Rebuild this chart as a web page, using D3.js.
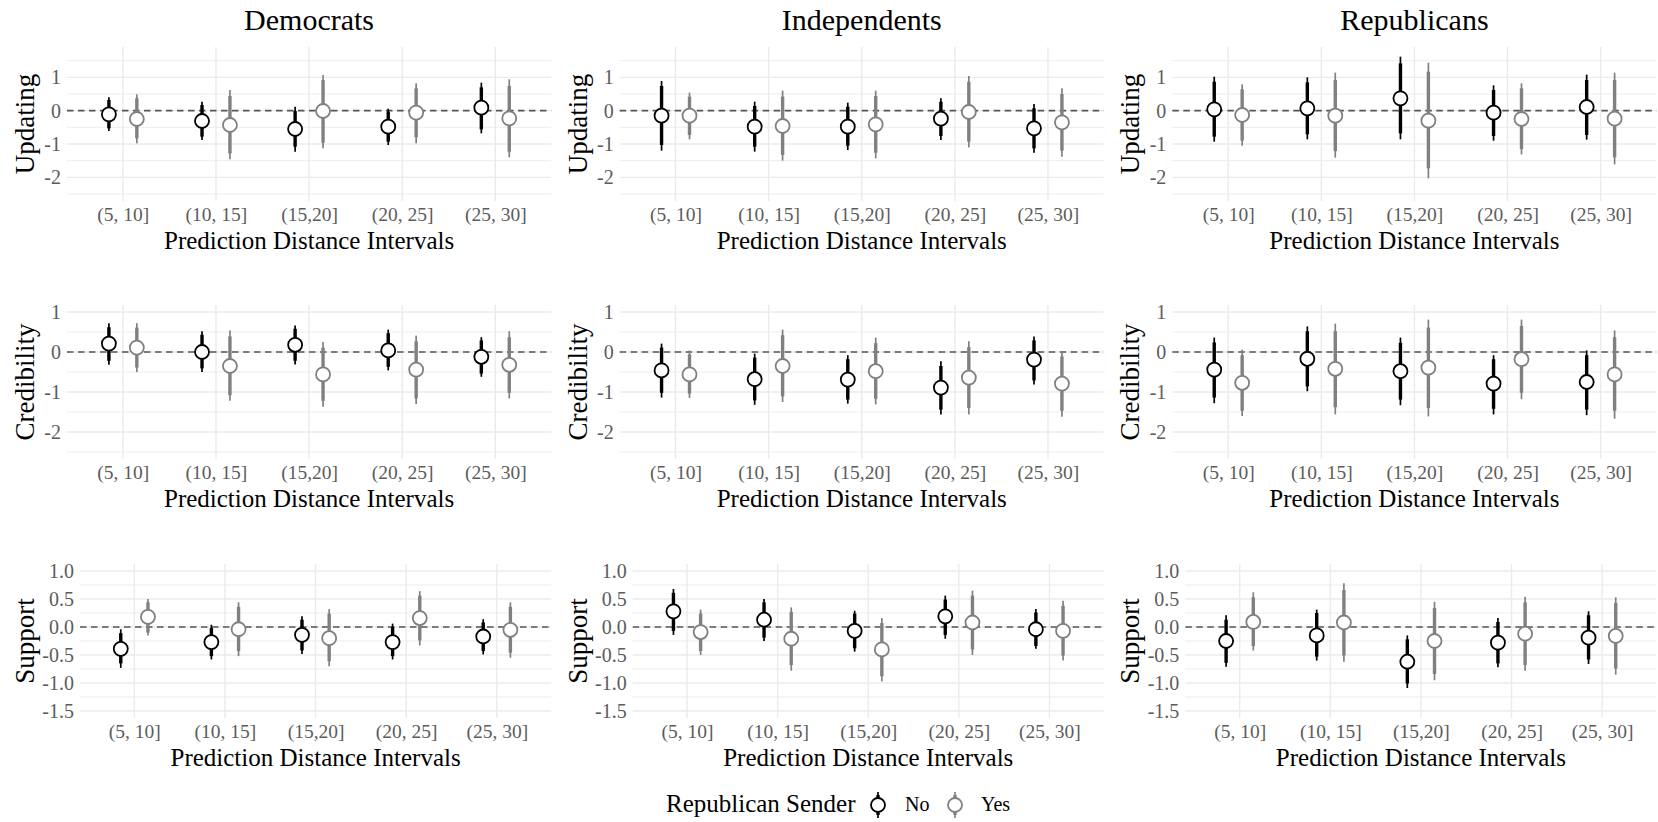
<!DOCTYPE html>
<html>
<head>
<meta charset="utf-8">
<script src="https://cdn.jsdelivr.net/npm/d3@7"></script>
<style>
  body { margin: 0; background: #fff; }
  svg text { font-family: "Liberation Serif", "Times New Roman", serif; }
</style>
</head>
<body>
<div id="chart"></div>
<script>
// categories and panel labels
const categories = ["(5, 10]", "(10, 15]", "(15,20]", "(20, 25]", "(25, 30]"];
const parties    = ["Democrats", "Independents", "Republicans"];
const outcomes   = ["Updating", "Credibility", "Support"];
const senders    = ["No", "Yes"];

// each row: [estimate, lo95, lo66, hi66, hi95]
const demUpdatingNo  = [[-0.11,-0.61,-0.53,0.32,0.40],[-0.31,-0.88,-0.78,0.17,0.27],[-0.55,-1.23,-1.08,-0.01,0.12],[-0.48,-1.03,-0.93,-0.03,0.06],[0.09,-0.68,-0.56,0.70,0.84]];
const demUpdatingYes = [[-0.25,-0.98,-0.83,0.37,0.49],[-0.43,-1.46,-1.28,0.44,0.62],[-0.01,-1.13,-0.96,0.92,1.07],[-0.06,-0.98,-0.80,0.67,0.82],[-0.23,-1.40,-1.23,0.74,0.94]];
const indUpdatingNo  = [[-0.15,-1.20,-1.03,0.74,0.89],[-0.48,-1.23,-1.08,0.14,0.27],[-0.48,-1.18,-1.05,0.12,0.24],[-0.24,-0.88,-0.76,0.27,0.37],[-0.53,-1.26,-1.13,0.07,0.20]];
const indUpdatingYes = [[-0.15,-0.86,-0.73,0.42,0.54],[-0.46,-1.50,-1.33,0.42,0.60],[-0.41,-1.43,-1.26,0.44,0.60],[-0.04,-1.10,-0.93,0.87,1.04],[-0.35,-1.38,-1.20,0.50,0.67]];
const repUpdatingNo  = [[0.04,-0.93,-0.78,0.87,1.02],[0.07,-0.86,-0.71,0.85,1.00],[0.37,-0.86,-0.68,1.42,1.62],[-0.06,-0.90,-0.76,0.62,0.76],[0.11,-0.87,-0.73,0.92,1.08]];
const repUpdatingYes = [[-0.13,-1.05,-0.90,0.64,0.79],[-0.15,-1.41,-1.21,0.92,1.14],[-0.30,-2.03,-1.73,1.17,1.44],[-0.25,-1.31,-1.15,0.67,0.82],[-0.24,-1.61,-1.40,0.92,1.14]];

const demCredibilityNo  = [[0.21,-0.32,-0.22,0.62,0.72],[0.00,-0.50,-0.41,0.43,0.52],[0.18,-0.31,-0.22,0.58,0.66],[0.04,-0.46,-0.37,0.47,0.56],[-0.12,-0.62,-0.54,0.29,0.37]];
const demCredibilityYes = [[0.11,-0.50,-0.39,0.61,0.72],[-0.35,-1.22,-1.08,0.39,0.54],[-0.56,-1.37,-1.22,0.11,0.25],[-0.44,-1.30,-1.16,0.27,0.41],[-0.32,-1.16,-1.02,0.37,0.52]];
const indCredibilityNo  = [[-0.46,-1.14,-1.02,0.11,0.21],[-0.68,-1.32,-1.21,-0.14,-0.04],[-0.69,-1.29,-1.19,-0.18,-0.08],[-0.89,-1.56,-1.44,-0.35,-0.23],[-0.19,-0.81,-0.71,0.29,0.39]];
const indCredibilityYes = [[-0.56,-1.15,-1.04,-0.06,0.04],[-0.35,-1.25,-1.11,0.42,0.56],[-0.48,-1.31,-1.17,0.22,0.36],[-0.64,-1.56,-1.40,0.12,0.27],[-0.79,-1.62,-1.47,-0.11,0.02]];
const repCredibilityNo  = [[-0.44,-1.28,-1.14,0.24,0.36],[-0.17,-0.98,-0.86,0.52,0.64],[-0.48,-1.33,-1.19,0.23,0.36],[-0.79,-1.56,-1.42,-0.18,-0.08],[-0.75,-1.58,-1.44,-0.08,0.04]];
const repCredibilityYes = [[-0.77,-1.60,-1.47,-0.08,0.06],[-0.42,-1.56,-1.38,0.52,0.71],[-0.39,-1.61,-1.40,0.61,0.81],[-0.18,-1.18,-1.02,0.65,0.81],[-0.56,-1.67,-1.47,0.37,0.54]];

const demSupportNo  = [[-0.39,-0.73,-0.65,-0.11,-0.04],[-0.27,-0.58,-0.52,-0.02,0.04],[-0.14,-0.48,-0.42,0.13,0.19],[-0.27,-0.58,-0.52,0.00,0.06],[-0.17,-0.49,-0.43,0.08,0.14]];
const demSupportYes = [[0.18,-0.15,-0.10,0.44,0.50],[-0.04,-0.52,-0.43,0.36,0.44],[-0.20,-0.70,-0.61,0.24,0.32],[0.16,-0.33,-0.24,0.56,0.64],[-0.05,-0.55,-0.46,0.36,0.44]];
const indSupportNo  = [[0.28,-0.14,-0.07,0.61,0.68],[0.13,-0.25,-0.19,0.44,0.50],[-0.07,-0.44,-0.38,0.24,0.29],[0.19,-0.21,-0.14,0.49,0.56],[-0.04,-0.39,-0.34,0.26,0.32]];
const indSupportYes = [[-0.09,-0.50,-0.43,0.24,0.31],[-0.21,-0.78,-0.68,0.27,0.35],[-0.40,-0.97,-0.88,0.07,0.16],[0.08,-0.50,-0.40,0.56,0.65],[-0.07,-0.60,-0.51,0.38,0.47]];
const repSupportNo  = [[-0.25,-0.71,-0.64,0.13,0.21],[-0.15,-0.60,-0.53,0.25,0.31],[-0.62,-1.09,-1.01,-0.22,-0.15],[-0.28,-0.72,-0.65,0.09,0.16],[-0.19,-0.66,-0.58,0.21,0.28]];
const repSupportYes = [[0.09,-0.42,-0.34,0.53,0.62],[0.08,-0.62,-0.51,0.66,0.78],[-0.25,-0.95,-0.84,0.34,0.45],[-0.12,-0.78,-0.68,0.44,0.54],[-0.16,-0.85,-0.74,0.43,0.53]];

// y axis ticks per outcome row
const yLimits   = [[-2.5, 1.7], [-2.5, 1.0], [-1.5, 1.0]];
const yMajor    = [[-2, -1, 0, 1], [-2, -1, 0, 1], [-1.5, -1, -0.5, 0, 0.5, 1]];
const yMinor    = [[-2.5, -1.5, -0.5, 0.5, 1.5], [-2.5, -1.5, -0.5, 0.5], [-1.25, -0.75, -0.25, 0.25, 0.75]];
const yDecimals = [0, 0, 1];

// rows = outcomes, cols = parties
const panels = [
  [[demUpdatingNo, demUpdatingYes], [indUpdatingNo, indUpdatingYes], [repUpdatingNo, repUpdatingYes]],
  [[demCredibilityNo, demCredibilityYes], [indCredibilityNo, indCredibilityYes], [repCredibilityNo, repCredibilityYes]],
  [[demSupportNo, demSupportYes], [indSupportNo, indSupportYes], [repSupportNo, repSupportYes]]
];

// 1. Dimensions
const width = 1658, height = 822;
const colW = width / 3;
const panelTop = [47, 305, 564], panelH = 154;
const leftPad = [67, 67, 80];
const colors = ["#000000", "#808080"];
const gridColor = "#ebebeb";
const tickColor = "#5c5c5c";
const ptR = 7, ptStroke = 1.8, thinW = 1.7, thickW = 3.4;

const svg = d3.select("#chart").append("svg")
  .attr("width", width)
  .attr("height", height)
  .style("display", "block");

// 2. Draw each panel
outcomes.forEach((outcome, r) => {
  parties.forEach((party, c) => {
    const x0 = c * colW;
    const left = x0 + leftPad[r];
    const right = Math.min(x0 + colW - 1.5, width);
    const top = panelTop[r], bottom = top + panelH;

    const x = d3.scalePoint()
      .domain(categories)
      .range([left, right])
      .padding(0.6);

    const [lo, hi] = yLimits[r];
    const pad = (hi - lo) * 0.05;
    const y = d3.scaleLinear()
      .domain([lo - pad, hi + pad])
      .range([bottom, top]);

    const g = svg.append("g");

    // grid
    g.selectAll("line.minor")
      .data(yMinor[r])
      .join("line")
        .attr("x1", left).attr("x2", right)
        .attr("y1", d => y(d)).attr("y2", d => y(d))
        .attr("stroke", gridColor)
        .attr("stroke-width", 0.9);

    g.selectAll("line.major")
      .data(yMajor[r])
      .join("line")
        .attr("x1", left).attr("x2", right)
        .attr("y1", d => y(d)).attr("y2", d => y(d))
        .attr("stroke", gridColor)
        .attr("stroke-width", 1.4);

    g.selectAll("line.vgrid")
      .data(categories)
      .join("line")
        .attr("x1", d => x(d)).attr("x2", d => x(d))
        .attr("y1", top).attr("y2", bottom)
        .attr("stroke", gridColor)
        .attr("stroke-width", 1.4);

    // zero reference
    g.append("line")
      .attr("x1", left).attr("x2", right)
      .attr("y1", y(0)).attr("y2", y(0))
      .attr("stroke", "#555")
      .attr("stroke-width", 1.6)
      .attr("stroke-dasharray", "6.5,4.5");

    // axes (labels only)
    const fmt = d => d3.format("." + yDecimals[r] + "f")(d).replace("\u2212", "-");
    const yAxis = g.append("g")
      .attr("transform", `translate(${left},0)`)
      .call(d3.axisLeft(y).tickValues(yMajor[r]).tickSize(0).tickPadding(6).tickFormat(fmt));
    yAxis.select(".domain").remove();
    yAxis.selectAll("text")
      .attr("fill", tickColor)
      .style("font-size", "20px");

    const xAxis = g.append("g")
      .attr("transform", `translate(0,${bottom})`)
      .call(d3.axisBottom(x).tickSize(0).tickPadding(6.5));
    xAxis.select(".domain").remove();
    xAxis.selectAll("text")
      .attr("fill", tickColor)
      .style("font-size", "19.5px");

    // axis titles
    g.append("text")
      .attr("x", (left + right) / 2)
      .attr("y", bottom + 47.5)
      .attr("text-anchor", "middle")
      .attr("fill", "#000")
      .style("font-size", "25px")
      .text("Prediction Distance Intervals");

    g.append("text")
      .attr("transform", `translate(${x0 + 34},${(top + bottom) / 2}) rotate(-90)`)
      .attr("text-anchor", "middle")
      .attr("fill", "#000")
      .style("font-size", "27px")
      .text(outcome);

    if (r === 0) {
      g.append("text")
        .attr("x", (left + right) / 2)
        .attr("y", 30)
        .attr("text-anchor", "middle")
        .attr("fill", "#000")
        .style("font-size", "30px")
        .text(party);
    }

    // point intervals
    const dodge = 0.15 * x.step();
    panels[r][c].forEach((rows, s) => {
      const pts = rows.map((v, i) => ({
        cx: x(categories[i]) + (s === 0 ? -dodge : dodge),
        est: v[0], lo95: v[1], lo66: v[2], hi66: v[3], hi95: v[4]
      }));
      const sg = g.append("g");
      sg.selectAll("line.thin")
        .data(pts)
        .join("line")
          .attr("x1", d => d.cx).attr("x2", d => d.cx)
          .attr("y1", d => y(d.lo95)).attr("y2", d => y(d.hi95))
          .attr("stroke", colors[s])
          .attr("stroke-width", thinW);
      sg.selectAll("line.thick")
        .data(pts)
        .join("line")
          .attr("x1", d => d.cx).attr("x2", d => d.cx)
          .attr("y1", d => y(d.lo66)).attr("y2", d => y(d.hi66))
          .attr("stroke", colors[s])
          .attr("stroke-width", thickW);
      sg.selectAll("circle")
        .data(pts)
        .join("circle")
          .attr("cx", d => d.cx)
          .attr("cy", d => y(d.est))
          .attr("r", ptR)
          .attr("fill", "#fff")
          .attr("stroke", colors[s])
          .attr("stroke-width", ptStroke);
    });
  });
});

// 3. Legend
const legend = svg.append("g");
legend.append("text")
  .attr("x", 666)
  .attr("y", 812)
  .attr("fill", "#000")
  .style("font-size", "25px")
  .text("Republican Sender");

const keyX = [878, 955];
const labX = [905, 981];
senders.forEach((s, i) => {
  const cy = 805;
  legend.append("line")
    .attr("x1", keyX[i]).attr("x2", keyX[i])
    .attr("y1", cy - 13).attr("y2", cy + 13)
    .attr("stroke", colors[i]).attr("stroke-width", thinW);
  legend.append("line")
    .attr("x1", keyX[i]).attr("x2", keyX[i])
    .attr("y1", cy - 10).attr("y2", cy + 10)
    .attr("stroke", colors[i]).attr("stroke-width", thickW);
  legend.append("circle")
    .attr("cx", keyX[i]).attr("cy", cy)
    .attr("r", ptR)
    .attr("fill", "#fff")
    .attr("stroke", colors[i])
    .attr("stroke-width", ptStroke);
  legend.append("text")
    .attr("x", labX[i])
    .attr("y", 811)
    .attr("fill", "#000")
    .style("font-size", "20px")
    .text(s);
});
</script>
</body>
</html>
